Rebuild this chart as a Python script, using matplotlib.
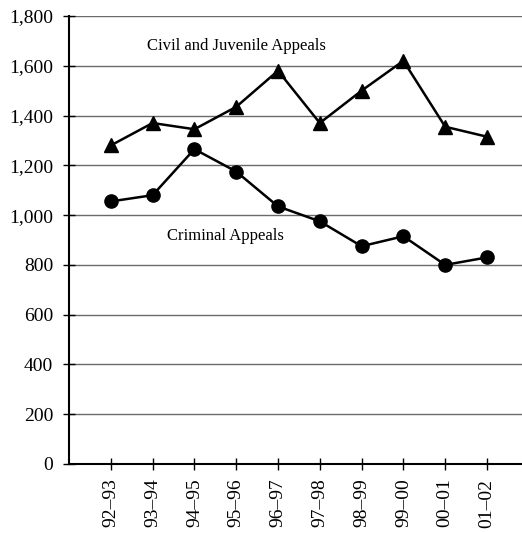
#!/usr/bin/env python3
# -*- coding: utf-8 -*-
"""
Appels civils/juvéniles et criminels par exercice (92-93 → 01-02).
"""

import matplotlib
matplotlib.use("Agg")
import matplotlib.pyplot as plt
from matplotlib.ticker import FuncFormatter

# ---------------------------------------------------------------------
YEARS    = ["92–93", "93–94", "94–95", "95–96", "96–97",
            "97–98", "98–99", "99–00", "00–01", "01–02"]
CIVIL    = [1280, 1370, 1345, 1435, 1580, 1370, 1500, 1620, 1355, 1315]
CRIMINAL = [1055, 1080, 1265, 1175, 1035, 975, 875, 915, 800, 830]
Y_TICKS  = list(range(0, 1801, 200))

plt.rcParams["font.family"] = ["Liberation Serif", "DejaVu Serif"]


def main() -> None:
    fig = plt.figure(figsize=(5.22, 5.33), dpi=100)
    ax = fig.add_axes([69 / 522, 1 - 464 / 533, 453 / 522, 448 / 533])

    x = list(range(1, len(YEARS) + 1))

    # grille horizontale
    for v in Y_TICKS[1:]:
        ax.axhline(v, color="#6a6a6a", linewidth=1.0, zorder=1)

    ax.plot(x, CIVIL, color="black", linewidth=1.8, marker="^",
            markersize=10, zorder=3, clip_on=False)
    ax.plot(x, CRIMINAL, color="black", linewidth=1.8, marker="o",
            markersize=9.5, zorder=3, clip_on=False)

    ax.text(1.87, 1679, "Civil and Juvenile Appeals", fontsize=12,
            ha="left", va="center")
    ax.text(2.34, 916, "Criminal Appeals", fontsize=12,
            ha="left", va="center")

    ax.set_xlim(0, 453 / 41.8)
    ax.set_ylim(0, 1800)
    ax.set_yticks(Y_TICKS)
    ax.yaxis.set_major_formatter(FuncFormatter(lambda v, p: f"{int(v):,}"))
    ax.set_xticks(x)
    ax.set_xticklabels(YEARS, rotation=90)

    for s in ("top", "right"):
        ax.spines[s].set_visible(False)
    ax.spines["left"].set_linewidth(1.5)
    ax.spines["bottom"].set_linewidth(1.5)

    ax.tick_params(axis="both", direction="inout", length=9, width=1,
                   labelsize=14, colors="black")
    ax.tick_params(axis="y", pad=7)
    ax.tick_params(axis="x", pad=6)

    fig.savefig("out.png", dpi=100)


if __name__ == "__main__":
    main()
